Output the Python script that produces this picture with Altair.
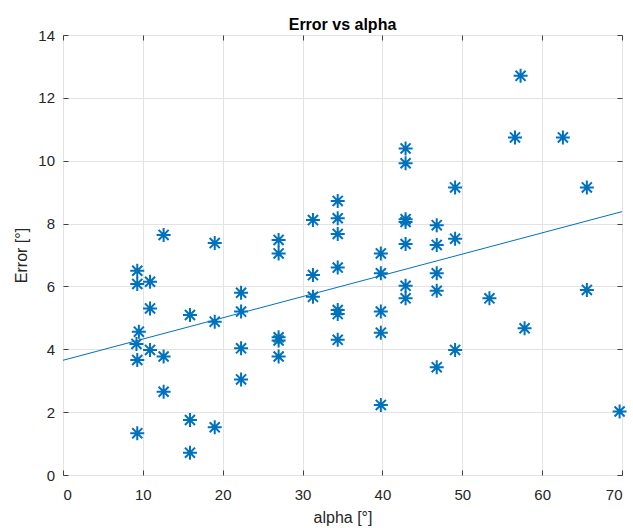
import altair as alt
import pandas as pd

# Scatter data
alpha = [9.3, 9.3, 9.5, 9.2, 9.3, 9.3,
         10.9, 10.9, 10.9,
         12.6, 12.6, 12.6,
         15.9, 15.9, 15.9,
         19.0, 19.0, 19.0,
         22.3, 22.3, 22.3, 22.3,
         27.0, 27.0, 27.0, 27.0, 27.0,
         31.3, 31.3, 31.3,
         34.4, 34.4, 34.4, 34.4, 34.4, 34.4, 34.4,
         39.8, 39.8, 39.8, 39.8, 39.8,
         42.9, 42.9, 42.9, 42.9, 42.9, 42.9, 42.9,
         46.8, 46.8, 46.8, 46.8, 46.8,
         49.1, 49.1, 49.1,
         53.4, 56.6, 57.3, 57.8, 62.6,
         65.6, 65.6, 69.7]
error = [6.50, 6.08, 4.56, 4.17, 3.66, 1.33,
         6.15, 5.30, 3.98,
         7.64, 3.77, 2.65,
         5.09, 1.75, 0.71,
         7.38, 4.88, 1.52,
         5.80, 5.20, 4.03, 3.04,
         7.48, 7.05, 4.38, 4.28, 3.77,
         8.11, 6.36, 5.67,
         8.72, 8.17, 7.67, 6.60, 5.25, 5.12, 4.30,
         7.05, 6.42, 5.20, 4.53, 2.23,
         10.39, 9.92, 8.14, 8.05, 7.35, 6.02, 5.62,
         7.95, 7.32, 6.42, 5.86, 3.43,
         9.15, 7.52, 3.98,
         5.62, 10.74, 12.70, 4.67, 10.74,
         9.15, 5.89, 2.02]

# Linear fit line
fit_alpha = [0, 70]
fit_error = [3.65, 8.38]

x_ticks = [0, 10, 20, 30, 40, 50, 60, 70]
y_ticks = [0, 2, 4, 6, 8, 10, 12, 14]

BLUE = "#0072BD"
AXC = "#404040"
TXT = "#262626"
GRID = "#e3e3e3"
FONT = "Liberation Sans"

pts = pd.DataFrame({"alpha": alpha, "error": error})
fit = pd.DataFrame({"alpha": fit_alpha, "error": fit_error})

xscale = alt.Scale(domain=[0, 70], nice=False, zero=False)
yscale = alt.Scale(domain=[0, 14], nice=False, zero=False)

star = "M-1,0L1,0M0,-1L0,1M-0.72,-0.72L0.72,0.72M-0.72,0.72L0.72,-0.72"

W, H = 559, 440

points = alt.Chart(pts).mark_point(
    shape=star, size=196, filled=False, strokeWidth=2, opacity=1, color=BLUE
).encode(
    x=alt.X("alpha:Q", scale=xscale, axis=alt.Axis(
        orient="bottom", values=x_ticks, grid=True, gridColor=GRID, gridWidth=1,
        domain=False, ticks=True, tickSize=5, tickColor=AXC, offset=-5,
        labelPadding=12, labelFontSize=15, labelColor=TXT, labelFont=FONT,
        title="alpha [°]", titleFontSize=16, titleFontWeight="normal",
        titleColor=TXT, titleFont=FONT, titleBaseline="alphabetic",
        titleX=W / 2, titleY=52, titleAlign="center")),
    y=alt.Y("error:Q", scale=yscale, axis=alt.Axis(
        orient="left", values=y_ticks, grid=True, gridColor=GRID, gridWidth=1,
        domain=False, ticks=True, tickSize=5, tickColor=AXC, offset=-5,
        labelPadding=8.5, labelFontSize=15, labelColor=TXT, labelFont=FONT,
        title="Error [°]", titleFontSize=16, titleFontWeight="normal",
        titleColor=TXT, titleFont=FONT, titleBaseline="alphabetic",
        titleAngle=270, titleX=-42, titleY=H / 2, titleAlign="center")),
)

line = alt.Chart(fit).mark_line(color=BLUE, strokeWidth=1).encode(
    x=alt.X("alpha:Q", scale=xscale, axis=alt.Axis(
        orient="top", values=x_ticks, grid=False, domain=False, labels=False,
        ticks=True, tickSize=5, tickColor=AXC, offset=-5, title=None)),
    y=alt.Y("error:Q", scale=yscale, axis=alt.Axis(
        orient="right", values=y_ticks, grid=False, domain=False, labels=False,
        ticks=True, tickSize=5, tickColor=AXC, offset=-5, title=None)),
)

chart = alt.layer(points, line).resolve_axis(
    x="independent", y="independent"
).properties(
    width=W, height=H,
    autosize="none",
    padding={"left": 63, "top": 35, "right": 11, "bottom": 53},
    title=alt.TitleParams("Error vs alpha", fontSize=16, fontWeight="bold",
                          font=FONT, color="#000000", offset=5, dy=26,
                          baseline="bottom", anchor="middle"),
).configure_view(
    stroke=AXC, strokeWidth=1
).configure(background="white")

chart.save("out.html", embed_options={"renderer": "svg", "actions": False})
